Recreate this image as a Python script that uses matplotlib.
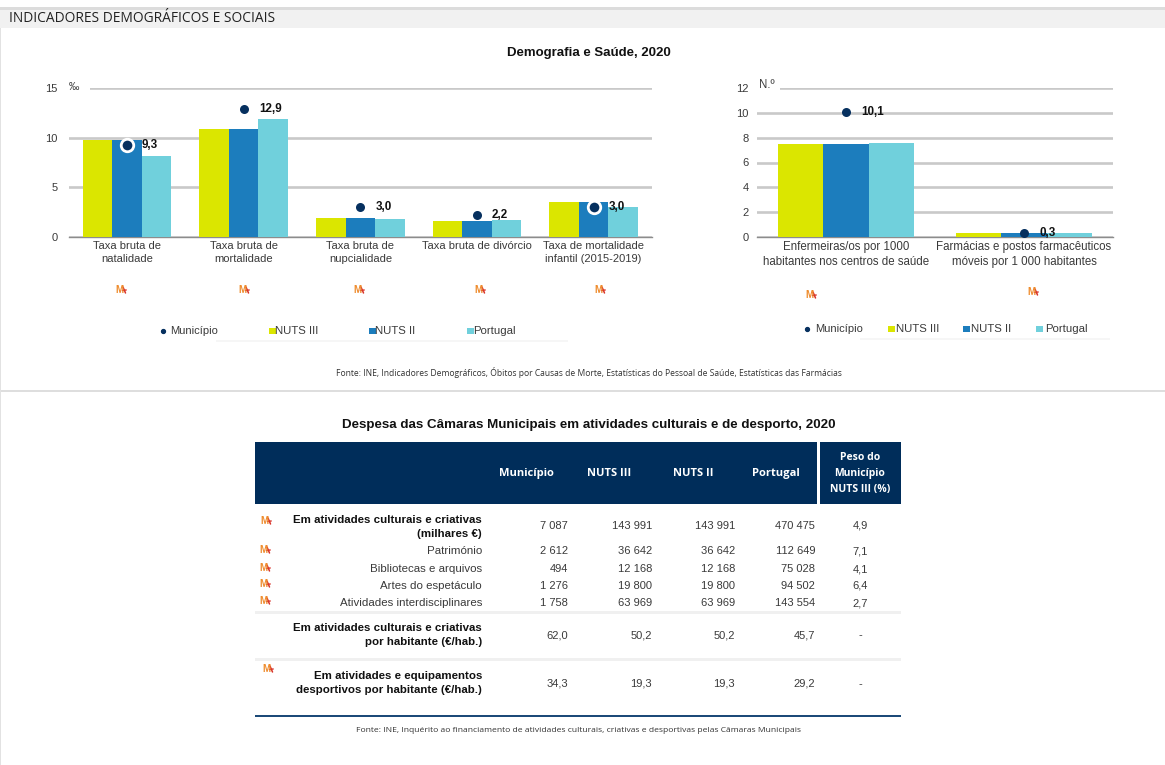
import matplotlib
matplotlib.use("Agg")
import matplotlib.pyplot as plt
from matplotlib.patches import Rectangle
import numpy as np

W, H = 1165, 765
SANS = ['Liberation Sans', 'DejaVu Sans']
OPEN = ['Open Sans', 'DejaVu Sans']
plt.rcParams['font.family'] = SANS

# ---------- data ----------
left_labels = ['Taxa bruta de\nnatalidade', 'Taxa bruta de\nmortalidade', 'Taxa bruta de\nnupcialidade',
               'Taxa bruta de divórcio', 'Taxa de mortalidade\ninfantil (2015-2019)']
left_nuts3 = [9.8, 10.9, 1.9, 1.65, 3.5]
left_nuts2 = [9.8, 10.9, 1.9, 1.65, 3.5]
left_pt = [8.2, 11.9, 1.8, 1.7, 3.0]
left_mun = [9.3, 12.9, 3.0, 2.2, 3.0]
left_mun_text = ['9,3', '12,9', '3,0', '2,2', '3,0']
left_ticks = [0, 5, 10, 15]

right_labels = ['Enfermeiras/os por 1000\nhabitantes nos centros de saúde',
                'Farmácias e postos farmacêuticos\nmóveis por 1 000 habitantes']
right_nuts3 = [7.5, 0.3]
right_nuts2 = [7.5, 0.3]
right_pt = [7.6, 0.33]
right_mun = [10.1, 0.3]
right_mun_text = ['10,1', '0,3']
right_ticks = [0, 2, 4, 6, 8, 10, 12]

series_names = ['Município', 'NUTS III', 'NUTS II', 'Portugal']

table_header = ['Município', 'NUTS III', 'NUTS II', 'Portugal']
table_last_header = 'Peso do\nMunicípio\nNUTS III (%)'
row_labels = ['Em atividades culturais e criativas\n(milhares €)', 'Património', 'Bibliotecas e arquivos',
              'Artes do espetáculo', 'Atividades interdisciplinares',
              'Em atividades culturais e criativas\npor habitante (€/hab.)',
              'Em atividades e equipamentos\ndesportivos por habitante (€/hab.)']
col_municipio = ['7 087', '2 612', '494', '1 276', '1 758', '62,0', '34,3']
col_nuts3 = ['143 991', '36 642', '12 168', '19 800', '63 969', '50,2', '19,3']
col_nuts2 = ['143 991', '36 642', '12 168', '19 800', '63 969', '50,2', '19,3']
col_portugal = ['470 475', '112 649', '75 028', '94 502', '143 554', '45,7', '29,2']
col_peso = ['4,9', '7,1', '4,1', '6,4', '2,7', '-', '-']
row_bold = [True, False, False, False, False, True, True]

# ---------- style ----------
C_N3, C_N2, C_PT, C_MUN = '#dbe600', '#1c7dbd', '#70d0dc', '#06305f'
GRID = '#c9c9c9'
TXT = '#3a3a3a'
NAVY = '#002d5a'

fig = plt.figure(figsize=(W / 100, H / 100), dpi=100, facecolor='white')
bg = fig.add_axes([0, 0, 1, 1], zorder=0)
bg.set_xlim(0, W); bg.set_ylim(H, 0); bg.axis('off')
top = fig.add_axes([0, 0, 1, 1], zorder=5)
top.set_xlim(0, W); top.set_ylim(H, 0); top.axis('off'); top.patch.set_alpha(0)


def rect(ax, x0, y0, x1, y1, c, z=1):
    ax.add_patch(Rectangle((x0, y0), x1 - x0, y1 - y0, fc=c, ec='none', zorder=z))


def icon(x, y):
    top.text(x, y, 'M', color='#ee8a2a', fontsize=7, fontweight='bold', ha='center', va='center',
             family=SANS)
    top.plot([x + 4, x + 6.5], [y - 3, y + 3], color='#d8332a', lw=1.1, solid_capstyle='round')
    top.plot([x + 3.5, x + 7], [y + 0.5, y], color='#d8332a', lw=1.0)


rect(bg, 0, 7, W, 10, '#dcdcdc')
rect(bg, 0, 10, W, 28, '#f1f1f1')
rect(bg, 0, 390, W, 392, '#dedede')
rect(bg, 0, 28, 1, H, '#e2e2e2')
bg.text(9, 18.5, 'INDICADORES DEMOGRÁFICOS E SOCIAIS', family=OPEN, fontsize=9.9, color='#222222',
        ha='left', va='center')
bg.text(589, 53, 'Demografia e Saúde, 2020', fontsize=9.55, fontweight='bold', color='#111111',
        ha='center', va='center')


def chart(px0, px1, ymax, labels, n3, n2, pt, mun, mun_txt, ticks, halo, dxs, lab_size):
    ax = fig.add_axes([px0 / W, 1 - 237 / H, (px1 - px0) / W, (237 - 88) / H], zorder=2)
    ax.patch.set_alpha(0)
    x = np.arange(len(labels))
    w = 0.253
    ax.bar(x - w, n3, w, color=C_N3, zorder=3)
    ax.bar(x, n2, w, color=C_N2, zorder=3)
    ax.bar(x + w, pt, w, color=C_PT, zorder=3)
    ax.set_xlim(-0.5, len(labels) - 0.5)
    ax.set_ylim(0, ymax)
    ax.set_yticks(ticks)
    ax.set_xticks(x)
    ax.set_xticklabels(labels, fontsize=lab_size, color=TXT, linespacing=1.32)
    ax.tick_params(axis='both', length=0, labelcolor=TXT)
    ax.tick_params(axis='y', labelsize=8)
    ax.tick_params(axis='x', pad=3)
    ax.grid(axis='y', color=GRID, lw=1.9, zorder=1)
    ax.set_axisbelow(True)
    for s in ['top', 'right', 'left']:
        ax.spines[s].set_visible(False)
    ax.spines['bottom'].set_color('#8c8c8c')
    ax.spines['bottom'].set_linewidth(1)
    for i, (v, t) in enumerate(zip(mun, mun_txt)):
        ax.plot([i], [v], 'o', ms=9 if i in halo else 6.5, mfc=C_MUN,
                mec='white' if i in halo else 'none', mew=2, zorder=6, clip_on=False)
        ax.annotate(t, (i, v), xytext=(dxs[i], 0), textcoords='offset points', fontsize=8.4,
                    fontweight='bold', color='#111111', va='center', ha='left', zorder=7)
    return ax


lax = chart(68.7, 652, 15, left_labels, left_nuts3, left_nuts2, left_pt, left_mun, left_mun_text,
            left_ticks, {0, 4}, [10.5, 11.5, 11, 10.5, 10.5], 8)
rax = chart(757, 1113, 12, right_labels, right_nuts3, right_nuts2, right_pt, right_mun, right_mun_text,
            right_ticks, set(), [11, 11], 8.3)
lax.tick_params(axis='y', pad=8)
rax.tick_params(axis='y', pad=6)

# unit tags, covering the start of the top gridline
rect(top, 64, 80, 90, 104, 'white', 1)
top.text(74, 87, '‰', fontsize=7.5, color=TXT, ha='center', va='center', zorder=3)
rect(top, 755, 80, 780, 102, 'white', 1)
top.text(767, 85, 'N.º', fontsize=8.3, color=TXT, ha='center', va='center', zorder=3)

for x in [119, 242, 357, 478, 598]:
    icon(x, 290)
for x, y in [(809, 295), (1031, 292)]:
    icon(x, y)


def legend(mx, tx, items, y):
    top.plot([mx], [y], 'o', ms=2.8, color=C_MUN)
    top.text(tx, y, series_names[0], fontsize=8, color=TXT, ha='left', va='center')
    for (sx, lx), name, c in zip(items, series_names[1:], [C_N3, C_N2, C_PT]):
        rect(top, sx, y - 3, sx + 6.5, y + 3, c)
        top.text(lx, y, name, fontsize=8.2, color=TXT, ha='left', va='center')


legend(163, 170, [(269, 275), (369, 375), (467, 473)], 331)
legend(807, 815, [(888, 896), (963, 971), (1036, 1045)], 329)
rect(bg, 216, 340, 568, 342, '#f6f6f6')
rect(bg, 860, 338, 1110, 340, '#f6f6f6')

bg.text(589, 372, 'Fonte: INE, Indicadores Demográficos, Óbitos por Causas de Morte, Estatísticas do '
        'Pessoal de Saúde, Estatísticas das Farmácias', family=OPEN, fontsize=6.15, color='#333333',
        ha='center', va='center')

# ---------- table ----------
bg.text(589, 425, 'Despesa das Câmaras Municipais em atividades culturais e de desporto, 2020',
        fontsize=9.6, fontweight='bold', color='#111111', ha='center', va='center')
rect(bg, 255, 442, 817, 504, NAVY)
rect(bg, 820, 442, 901, 504, NAVY)
for cx, h in zip([526, 609, 693, 776], table_header):
    bg.text(cx, 473, h, family=OPEN, fontsize=8, fontweight='bold', color='white', ha='center', va='center')
bg.text(860, 473.5, table_last_header, family=OPEN, fontsize=7.5, fontweight='bold', color='white',
        ha='center', va='center', linespacing=1.6)

row_y = [527, 551, 569, 586, 603, 635, 683]
num_y = [526, 551, 569, 586, 603, 635, 684]
for y, ny, lab, bold, *vals in zip(row_y, num_y, row_labels, row_bold, col_municipio, col_nuts3, col_nuts2,
                                   col_portugal, col_peso):
    bg.text(482, y, lab, fontsize=8.25, fontweight='bold' if bold else 'normal',
            color='#111111' if bold else TXT, ha='right', va='center', linespacing=1.6)
    for rx, v in zip([568, 652, 735, 815], vals[:4]):
        bg.text(rx, ny, v, fontsize=8, color=TXT, ha='right', va='center')
    bg.text(860, ny, vals[4], fontsize=8, color=TXT, ha='center', va='center')

rect(bg, 255, 611, 901, 614, '#f0f0f0')
rect(bg, 255, 658, 901, 661, '#f0f0f0')
rect(bg, 255, 714.5, 901, 716.5, '#1c4a78')
for y, x in [(521, 265), (550, 264), (568, 264), (584, 264), (601, 264), (669, 267)]:
    icon(x - 1, y)
bg.text(579, 731, 'Fonte: INE, Inquérito ao financiamento de atividades culturais, criativas e desportivas '
        'pelas Câmaras Municipais', family=OPEN, fontsize=6.1, color='#333333', ha='center', va='center')

fig.savefig('out.png', dpi=100, facecolor='white')
